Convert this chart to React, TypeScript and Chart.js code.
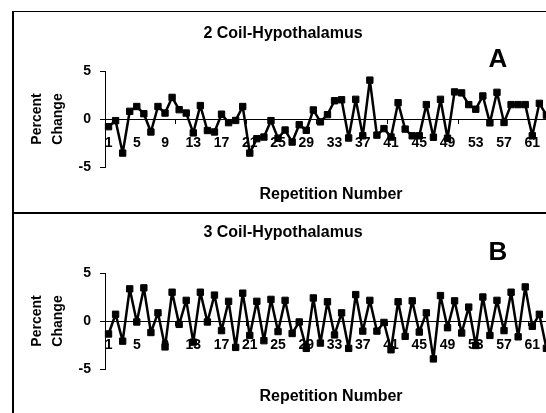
import React, { useEffect, useRef } from 'react';
import { Chart, registerables } from 'chart.js';

Chart.register(...registerables);

const repetitions = [
  '1', '2', '3', '4', '5', '6', '7', '8', '9', '10', '11', '12', '13', '14', '15', '16',
  '17', '18', '19', '20', '21', '22', '23', '24', '25', '26', '27', '28', '29', '30', '31', '32',
  '33', '34', '35', '36', '37', '38', '39', '40', '41', '42', '43', '44', '45', '46', '47', '48',
  '49', '50', '51', '52', '53', '54', '55', '56', '57', '58', '59', '60', '61', '62', '63', '64',
];

const coil2Values = [
  -0.8, -0.17, -3.55, 0.8, 1.3, 0.55, -1.35, 1.3, 0.62, 2.25, 0.97, 0.62, -1.45, 1.4, -1.2, -1.35,
  0.5, -0.38, -0.15, 1.3, -3.55, -2.05, -1.88, -0.17, -2.0, -1.15, -2.4, -0.6, -1.18, 0.94, -0.3, 0.45,
  1.9, 2.0, -1.98, 2.05, -1.75, 4.05, -1.68, -1.0, -1.88, 1.7, -1.05, -1.75, -1.75, 1.5, -1.9, 2.05,
  -2.0, 2.82, 2.72, 1.5, 1.02, 2.4, -0.4, 2.78, -0.36, 1.5, 1.5, 1.5, -1.75, 1.63, 0.4, 0.6,
];

const coil3Values = [
  -1.35, 0.7, -2.1, 3.35, -0.1, 3.45, -1.2, 0.85, -2.7, 3.0, -0.35, 2.15, -2.2, 3.0, -0.1, 2.7,
  -1.0, 2.05, -2.75, 2.9, -1.5, 2.05, -2.05, 2.25, -1.1, 2.15, -1.3, -0.1, -2.85, 2.4, -2.3, 2.0,
  -1.45, 0.85, -2.85, 2.75, -1.05, 2.15, -1.05, -0.15, -3.0, 2.0, -1.6, 2.1, -1.15, 0.85, -3.95, 2.65,
  -0.7, 2.1, -1.25, 1.45, -2.55, 2.5, -1.5, 2.15, -1.0, 3.0, -1.65, 3.55, -0.55, 0.7, -2.85, 0.0,
];

const yMin = -5;
const yMax = 5;
const yStep = 5;
const labelEvery = 4;
const tickMarkEvery = 10;

const FONT = "'Liberation Sans', Arial, Helvetica, sans-serif";
const CANVAS_W = 560;
const CANVAS_H = 200;

type PanelProps = {
  title: string;
  letter: string;
  values: number[];
  titleY: number;
  letterY: number;
};

function Panel({ title, letter, values, titleY, letterY }: PanelProps) {
  const ref = useRef<HTMLCanvasElement>(null);

  useEffect(() => {
    if (!ref.current) return;
    const chart = new Chart(ref.current, {
      type: 'line',
      data: {
        labels: repetitions,
        datasets: [
          {
            data: values,
            borderColor: '#000',
            backgroundColor: '#000',
            borderWidth: 2.5,
            borderJoinStyle: 'round',
            borderCapStyle: 'round',
            pointStyle: 'rect',
            pointRadius: 4.5,
            pointBorderWidth: 1,
            pointBackgroundColor: '#000',
            pointBorderColor: '#000',
            tension: 0,
            fill: false,
          },
        ],
      },
      options: {
        animation: false,
        responsive: false,
        maintainAspectRatio: false,
        layout: { padding: { left: 0, right: 17, top: 59, bottom: 45 } },
        plugins: {
          legend: { display: false },
          tooltip: { enabled: false },
          title: { display: false },
        },
        scales: {
          x: {
            type: 'category',
            offset: true,
            position: { y: 0 } as any,
            grid: {
              drawOnChartArea: false,
              drawTicks: true,
              tickLength: 4,
              offset: true,
              lineWidth: 1,
              color: (ctx: any) => (ctx.index % tickMarkEvery === 0 ? '#000' : 'rgba(0,0,0,0)'),
            },
            border: { display: true, color: '#000', width: 1 },
            ticks: {
              autoSkip: false,
              maxRotation: 0,
              minRotation: 0,
              padding: 12,
              color: '#000',
              font: { family: FONT, size: 14, weight: 'bold' },
              callback: (_v: any, i: number) => (i % labelEvery === 0 ? repetitions[i] : ''),
            },
            title: {
              display: true,
              text: 'Repetition Number',
              color: '#000',
              font: { family: FONT, size: 16, weight: 'bold' },
              padding: { top: 0, bottom: -40.6 },
            },
            afterFit: (s: any) => {
              s.height = 45;
            },
          },
          y: {
            min: yMin,
            max: yMax,
            grid: {
              drawOnChartArea: false,
              drawTicks: true,
              tickLength: 5,
              color: '#000',
              lineWidth: 1,
            },
            border: { display: true, color: '#000', width: 1 },
            ticks: {
              stepSize: yStep,
              padding: 9,
              color: '#000',
              font: { family: FONT, size: 14, weight: 'bold' },
            },
            title: {
              display: true,
              text: ['Percent', 'Change'],
              color: '#000',
              font: { family: FONT, size: 14, weight: 'bold', lineHeight: 1.5 },
              padding: { top: 12.5, bottom: 0 },
            },
            afterFit: (s: any) => {
              s.width = 91;
            },
          },
        },
      },
    });
    return () => chart.destroy();
  }, [values]);

  return (
    <div
      style={{
        position: 'relative',
        width: CANVAS_W,
        height: CANVAS_H,
        borderTop: '1px solid #000',
        borderLeft: '2px solid #000',
        borderBottom: '1px solid #000',
      }}
    >
      <canvas ref={ref} width={CANVAS_W} height={CANVAS_H} style={{ display: 'block', width: CANVAS_W, height: CANVAS_H }} />
      <div
        style={{
          position: 'absolute',
          left: 269,
          top: titleY,
          transform: 'translate(-50%, -50%)',
          whiteSpace: 'nowrap',
          fontFamily: FONT,
          fontWeight: 'bold',
          fontSize: 16,
          lineHeight: 1,
          color: '#000',
        }}
      >
        {title}
      </div>
      <div
        style={{
          position: 'absolute',
          left: 484,
          top: letterY,
          transform: 'translate(-50%, -50%)',
          whiteSpace: 'nowrap',
          fontFamily: FONT,
          fontWeight: 'bold',
          fontSize: 26,
          lineHeight: 1,
          color: '#000',
        }}
      >
        {letter}
      </div>
    </div>
  );
}

export default function App() {
  return (
    <div
      style={{
        position: 'fixed',
        left: 12,
        top: 11,
        width: 534,
        height: 402,
        overflow: 'hidden',
        background: '#fff',
      }}
    >
      <Panel title="2 Coil-Hypothalamus" letter="A" values={coil2Values} titleY={21} letterY={46} />
      <Panel title="3 Coil-Hypothalamus" letter="B" values={coil3Values} titleY={18} letterY={37} />
    </div>
  );
}
